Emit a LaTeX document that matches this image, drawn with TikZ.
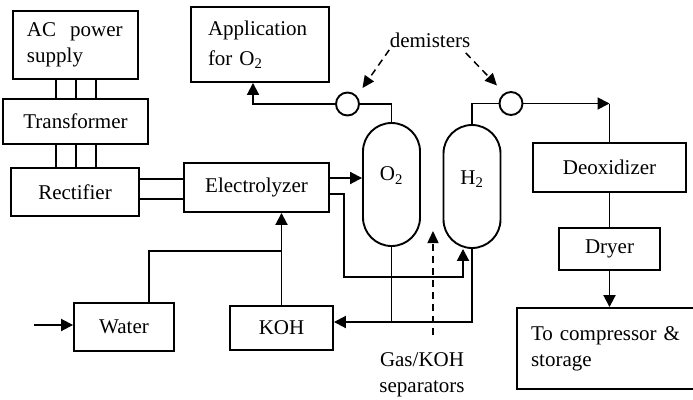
\documentclass[tikz,border=0pt]{standalone}
\usepackage{fontspec}
\setmainfont{Liberation Serif}
\usetikzlibrary{arrows.meta,positioning,calc}
\tikzset{
  box/.style={draw,line width=1.9pt,inner sep=0pt},
  tank/.style={draw,line width=1.9pt,rounded corners=28.5pt,minimum width=57pt,minimum height=123pt,inner sep=0pt},
  pipe/.style={line width=1.9pt},
  flow/.style={pipe,-{Triangle[length=12pt,width=12pt]}},
  hint/.style={line width=1.5pt,dash pattern=on 7pt off 5pt,-{Triangle[length=12pt,width=11pt]}},
}

\begin{document}
\begin{tikzpicture}[x=1pt,y=-1pt,font=\fontsize{21}{26}\selectfont]
  \useasboundingbox (0,0) rectangle (693,399);
  \clip (0,0) rectangle (693,399);
  \node[box,minimum width=125pt,minimum height=68pt,text width=97pt,align=left] (ac) at (75.5,45) {AC\ \ power\\supply};
  \node[box,minimum width=145pt,minimum height=45pt] (trans) at (75.5,121.5) {Transformer};
  \node[box,minimum width=128pt,minimum height=48pt] (rect) at (75,192) {Rectifier};
  \node[box,minimum width=145pt,minimum height=49pt] (elec) at (256.5,187.5) {Electrolyzer};
  \node[box,minimum width=138pt,minimum height=75pt,text width=104pt,align=left,font=\fontsize{21}{30}\selectfont] (app) at (260,44.5) {Application\\for O\textsubscript{2}};
  \node[tank] (o2) at (391.5,184.5) {};
  \node[tank] (h2) at (472,186.5) {};
  \node (o2t) at ($(o2)+(0,-9)$) {O\textsubscript{2}};
  \node (h2t) at ($(h2)+(0,-7)$) {H\textsubscript{2}};
  \node[draw,circle,line width=1.9pt,minimum size=23pt,inner sep=0pt] (dmo) at (347.5,104) {};
  \node[draw,circle,line width=1.9pt,minimum size=23pt,inner sep=0pt] (dmh) at (511,103.5) {};
  \node[box,minimum width=153pt,minimum height=49pt] (deox) at (609.5,167.5) {Deoxidizer};
  \node[box,minimum width=101pt,minimum height=42pt] (dryer) at (609.5,249) {Dryer};
  \node[box,minimum width=183pt,minimum height=81pt,text width=155pt,align=left] (store) at (608.5,348.5) {To compressor \&\\storage};
  \node[box,minimum width=100pt,minimum height=48pt] (water) at (124,327) {Water};
  \node[box,minimum width=103pt,minimum height=44pt] (koh) at (281.5,328) {KOH};
  \node (dem) at (430,40) {demisters};
  \node[align=center,inner sep=0pt] (gas) at (422,375) {Gas/KOH\\separators};
  \coordinate (win) at (34,325);
  \coordinate (gastail) at (433,335);

  \foreach \x in {56,76,96}
    {\draw[pipe] (\x,0 |- ac.south) -- (\x,0 |- trans.north);
     \draw[pipe] (\x,0 |- trans.south) -- (\x,0 |- rect.north);}
  \foreach \y in {179,199} \draw[pipe] (rect.east |- 0,\y) -- (elec.west |- 0,\y);
  \draw[flow] (elec.east |- 0,178) -- (o2.west |- 0,178);
  \draw[flow] (elec.east |- 0,194) -| (344,277) -| (463,0 |- h2.south);
  \draw[pipe] (o2.north) |- (dmo.east);
  \draw[flow] (dmo.west) -| (253,0 |- app.south);
  \draw[pipe] (h2.north) |- (dmh.west);
  \draw[flow] (dmh.east) -- (dmh.east -| deox.north);
  \draw[pipe] (dmh.east -| deox.north) -- (deox.north);
  \draw[pipe] (deox.south) -- (dryer.north);
  \draw[flow] (dryer.south) -- (dryer.south |- store.north);
  \draw[pipe] (o2.south) -- (o2.south |- 0,322);
  \draw[flow] (h2.south) |- (koh.east |- 0,322);
  \draw[flow] (win) -- (water.west |- win);
  \draw[pipe] (149,0 |- water.north) |- (koh.north |- 0,251);
  \draw[flow] (koh.north) -- (koh.north |- elec.south);
  \draw[hint] ($(dem.south west)+(3,-1)$) -- ($(dmo)+(15,-16)$);
  \draw[hint] ($(dem.south east)+(-8,2)$) -- ($(dmh)+(-14,-18)$);
  \draw[hint] (gastail) -- (gastail |- 0,231);
\end{tikzpicture}
\end{document}
